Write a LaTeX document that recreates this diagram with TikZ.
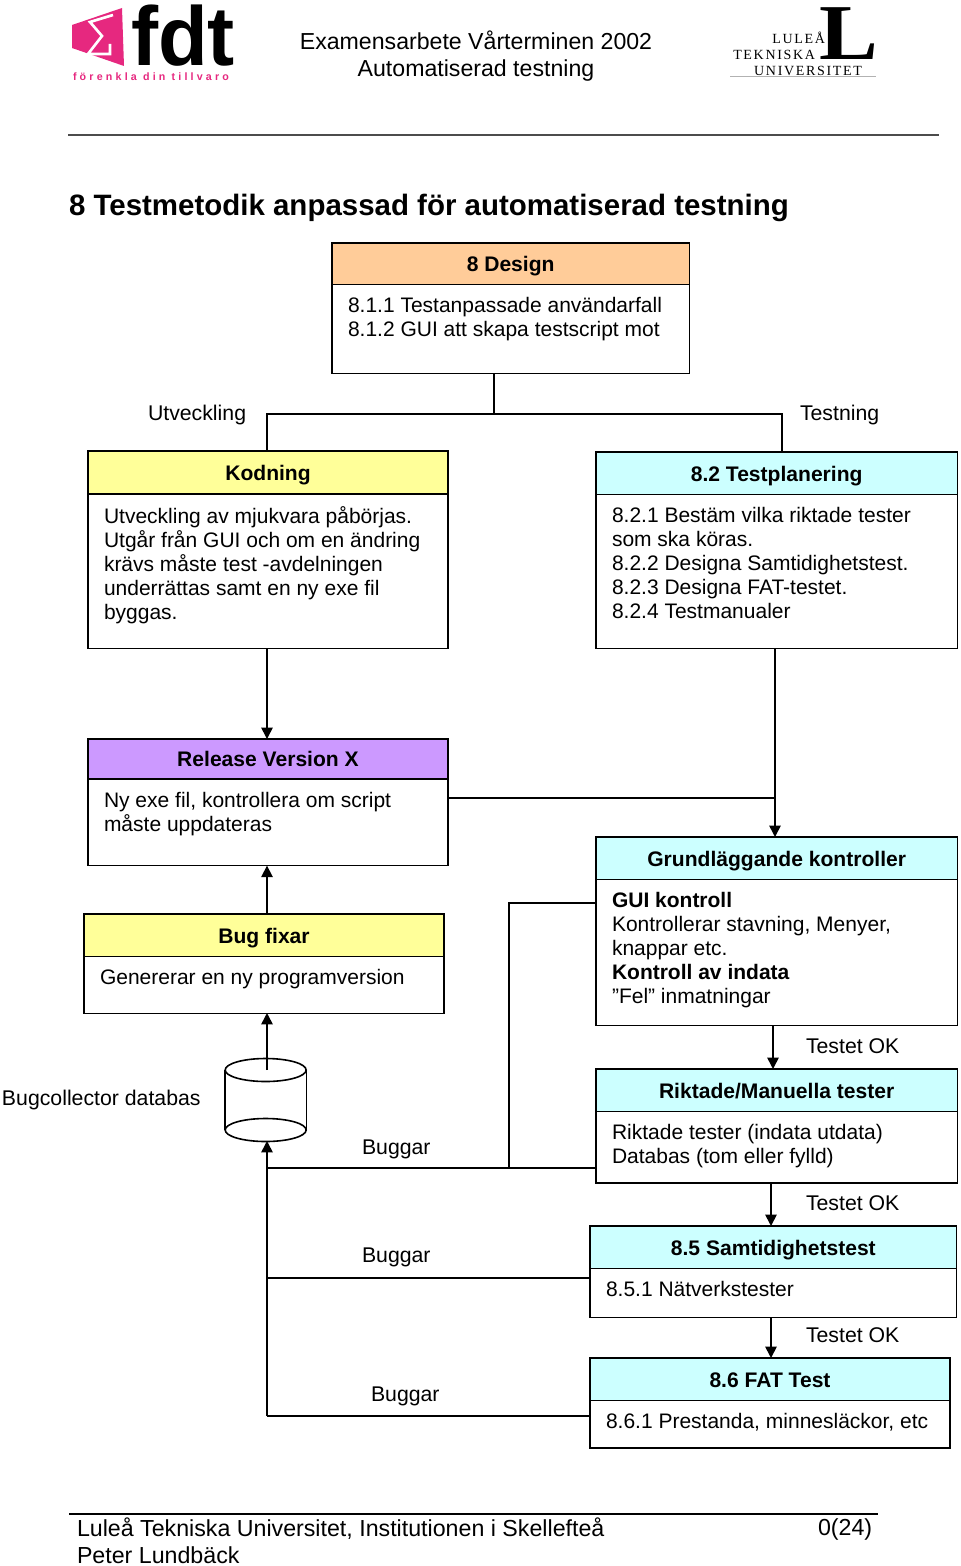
\documentclass[tikz,border=0pt]{standalone}
\usepackage{fontspec}
\setmainfont{Liberation Sans}
\newfontfamily\logoserif[LetterSpace=12]{Liberation Serif}
\newfontfamily\logol{Liberation Serif}
\newfontfamily\mottofont[LetterSpace=30]{Liberation Sans}
\usetikzlibrary{arrows.meta,positioning}
\definecolor{headorange}{HTML}{FFCC99}
\definecolor{headyellow}{HTML}{FFFF99}
\definecolor{headcyan}{HTML}{CCFFFF}
\definecolor{headpurple}{HTML}{CC99FF}
\definecolor{fdtpink}{HTML}{E6287F}

\begin{document}
\begin{tikzpicture}[
  x=0.75pt,
  y=-0.75pt,
  line width=1.2pt,
  every node/.style={inner sep=0pt,outer sep=0pt},
  plain/.style={font=\fontsize{15.95}{18}\selectfont,align=left},
  head/.style={
    draw,
    anchor=north west,
    font=\fontsize{15.8}{18}\selectfont\bfseries,
    text height=13pt,
    text depth=1.5pt,
    align=center
  },
  body/.style={
    draw,
    anchor=north west
  },
  bodytext/.style={
    font=\fontsize{15.75}{18}\selectfont,
    align=left
  },
  flow/.style={-{Triangle[length=8.5pt,width=8.5pt]}}
]
  \useasboundingbox (0,0) rectangle (960,1566);

  % header
  \fill[fdtpink] (72,25) -- (122,8) -- (124,66) -- (72,48) -- cycle;
  \draw[white,line width=2pt] (113,15) -- (90,22) -- (102,36) -- (88,54) -- (110,54) -- (110,44);
  \node[anchor=west,font=\fontsize{56}{56}\selectfont\bfseries] (fdt) at (131,36) {\scalebox{1.09}[1.12]{fdt}};
  \node[anchor=west,text=fdtpink,font=\fontsize{8}{9}\selectfont\mottofont\bfseries] (motto) at (73,77) {förenkla din tillvaro};
  \node[font=\fontsize{17.35}{20.25}\selectfont,align=center] (thesis) at (476,56) {Examensarbete Vårterminen 2002\\Automatiserad testning};
  \node[anchor=east,font=\fontsize{10.5}{10.5}\selectfont\logoserif] (ltua) at (825,38) {LULEÅ};
  \node[anchor=east,font=\fontsize{10.5}{10.5}\selectfont\logoserif] (ltub) at (815,55) {TEKNISKA};
  \node[anchor=east,font=\fontsize{10.5}{10.5}\selectfont\logoserif] (ltuc) at (862,71) {UNIVERSITET};
  \node[font=\fontsize{56}{56}\selectfont\logol\bfseries] (ltul) at (849,34) {\scalebox{1.18}[1.06]{L}};
  \draw[gray!60,line width=0.6pt] (730,76) -- (876,76);
  \draw[black!70,line width=1.2pt] (68,135) -- (939,135);
  \node[anchor=west,font=\fontsize{22.1}{26}\selectfont\bfseries] (title) at (69,208) {8 Testmetodik anpassad för automatiserad testning};

  % boxes
  \node[body,minimum width=268pt,minimum height=67pt] (design) at (332,284) {};
  \node[bodytext,below right=9.75pt and 12pt of design.north west] (designtext)
    {8.1.1 Testanpassade användarfall\\8.1.2 GUI att skapa testscript mot};
  \node[head,fill=headorange,minimum width=268pt,minimum height=31pt] (designhead) at (332,243) {8 Design};

  \node[body,minimum width=270pt,minimum height=116pt] (kodning) at (88,494) {};
  \node[bodytext,below right=9.75pt and 12pt of kodning.north west] (kodningtext)
    {Utveckling av mjukvara påbörjas.\\Utgår från GUI och om en ändring\\krävs måste test -avdelningen\\underrättas samt en ny exe fil\\byggas.};
  \node[head,fill=headyellow,minimum width=270pt,minimum height=32pt] (kodninghead) at (88,451) {Kodning};

  \node[body,minimum width=271pt,minimum height=116pt] (plan) at (596,494) {};
  \node[bodytext,below right=9.75pt and 12pt of plan.north west] (plantext)
    {8.2.1 Bestäm vilka riktade tester\\som ska köras.\\8.2.2 Designa Samtidighetstest.\\8.2.3 Designa FAT-testet.\\8.2.4 Testmanualer};
  \node[head,fill=headcyan,minimum width=271pt,minimum height=32pt] (planhead) at (596,452) {8.2 Testplanering};

  \node[body,minimum width=270pt,minimum height=65pt] (release) at (88,779) {};
  \node[bodytext,below right=9.75pt and 12pt of release.north west] (releasetext)
    {Ny exe fil, kontrollera om script\\måste uppdateras};
  \node[head,fill=headpurple,minimum width=270pt,minimum height=30pt] (releasehead) at (88,739) {Release Version X};

  \node[body,minimum width=270pt,minimum height=43pt] (bug) at (84,956) {};
  \node[bodytext,below right=9.75pt and 12pt of bug.north west] (bugtext)
    {Genererar en ny programversion};
  \node[head,fill=headyellow,minimum width=270pt,minimum height=32pt] (bughead) at (84,914) {Bug fixar};

  \node[body,minimum width=271pt,minimum height=110pt] (grund) at (596,879) {};
  \node[bodytext,below right=9.75pt and 12pt of grund.north west] (grundtext)
    {\textbf{GUI kontroll}\\Kontrollerar stavning, Menyer,\\knappar etc.\\\textbf{Kontroll av indata}\\”Fel” inmatningar};
  \node[head,fill=headcyan,minimum width=271pt,minimum height=32pt] (grundhead) at (596,837) {Grundläggande kontroller};

  \node[body,minimum width=271pt,minimum height=54pt] (riktade) at (596,1111) {};
  \node[bodytext,below right=9.75pt and 12pt of riktade.north west] (riktadetext)
    {Riktade tester (indata utdata)\\Databas (tom eller fylld)};
  \node[head,fill=headcyan,minimum width=271pt,minimum height=32pt] (riktadehead) at (596,1069) {Riktade/Manuella tester};

  \node[body,minimum width=275pt,minimum height=37pt] (samt) at (590,1268) {};
  \node[bodytext,below right=9.75pt and 12pt of samt.north west] (samttext)
    {8.5.1 Nätverkstester};
  \node[head,fill=headcyan,minimum width=275pt,minimum height=32pt] (samthead) at (590,1226) {8.5 Samtidighetstest};

  \node[body,minimum width=270pt,minimum height=36pt] (fat) at (590,1400) {};
  \node[bodytext,below right=9.75pt and 12pt of fat.north west] (fattext)
    {8.6.1 Prestanda, minnesläckor, etc};
  \node[head,fill=headcyan,minimum width=270pt,minimum height=32pt] (fathead) at (590,1358) {8.6 FAT Test};

  % database
  \node[minimum width=61pt,minimum height=45pt,anchor=north west] (db) at (225,1070) {};
  \draw (db.north west) -- (db.south west);
  \draw (db.north east) -- (db.south east);
  \draw (db.north) ellipse[x radius=40.5,y radius=11.5];
  \draw (db.south) ellipse[x radius=40.5,y radius=11.5];

  % connection points
  \coordinate (split) at (494,414);
  \coordinate (splitl) at (267,414);
  \coordinate (splitr) at (782,414);
  \coordinate (planout) at (775,648);
  \coordinate (join) at (775,798);
  \coordinate (relout) at (447,798);
  \coordinate (dbin) at (267,1141);
  \coordinate (dbout) at (267,1070);
  \coordinate (bugx) at (267,1013);
  \coordinate (busa) at (267,1168);
  \coordinate (busb) at (267,1278);
  \coordinate (busc) at (267,1416);
  \coordinate (rise) at (509,1168);
  \coordinate (riseb) at (509,903);
  \coordinate (stepa) at (773,1026);
  \coordinate (stepb) at (771,1183);
  \coordinate (stepc) at (771,1317);

  % connectors
  \draw (design.south -| split) -- (split);
  \draw (splitl |- kodninghead.north) -- (splitl) -- (splitr) -- (splitr |- planhead.north);
  \draw[flow] (splitl |- kodning.south) -- (splitl |- releasehead.north);
  \draw[flow] (planout) -- (planout |- grundhead.north);
  \draw (relout) -- (join);
  \draw[flow] (splitl |- bughead.north) -- (splitl |- release.south);
  \draw[flow] (dbout) -- (bugx);
  \draw[flow] (busc) -- (dbin);
  \draw (busa) -- (busa -| riktade.west);
  \draw (rise) -- (riseb) -- (riseb -| grund.west);
  \draw (busb) -- (busb -| samt.west);
  \draw (busc) -- (busc -| fat.west);
  \draw[flow] (stepa) -- (stepa |- riktadehead.north);
  \draw[flow] (stepb) -- (stepb |- samthead.north);
  \draw[flow] (stepc) -- (stepc |- fathead.north);

  % labels
  \node[plain,anchor=west] (utv) at (148,415) {Utveckling};
  \node[plain,anchor=west] (test) at (800,415) {Testning};
  \node[plain,anchor=west] (coll) at (2,1100) {Bugcollector databas};
  \node[plain,anchor=west] (buga) at (362,1149) {Buggar};
  \node[plain,anchor=west] (bugb) at (362,1257) {Buggar};
  \node[plain,anchor=west] (bugc) at (371,1396) {Buggar};
  \node[plain,anchor=west] (oka) at (806,1046) {Testet OK};
  \node[plain,anchor=west] (okb) at (806,1203) {Testet OK};
  \node[plain,anchor=west] (okc) at (806,1335) {Testet OK};

  % footer
  \draw (69,1514) -- (878,1514);
  \node[anchor=west,font=\fontsize{17.4}{20}\selectfont] (foota) at (77,1529) {Luleå Tekniska Universitet, Institutionen i Skellefteå};
  \node[anchor=west,font=\fontsize{17.4}{20}\selectfont] (footb) at (77,1555) {Peter Lundbäck};
  \node[anchor=west,font=\fontsize{17.4}{20}\selectfont] (footc) at (818,1529) {0(24)};
\end{tikzpicture}
\end{document}
